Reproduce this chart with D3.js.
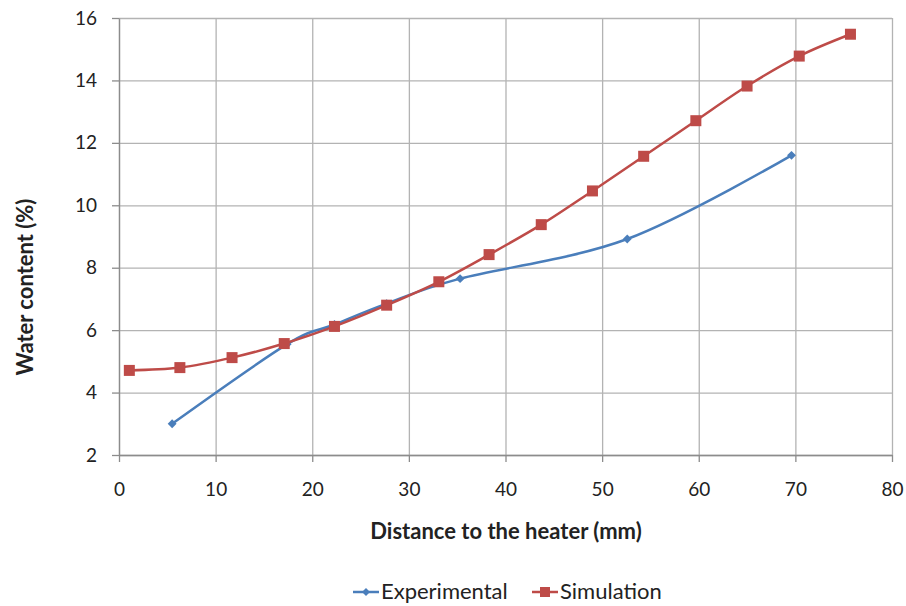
<!DOCTYPE html>
<html>
<head>
<meta charset="utf-8">
<script src="https://cdn.jsdelivr.net/npm/d3@7"></script>
<style>
  body { margin: 0; background: #fff; }
  text { font-family: Lato, "Open Sans", sans-serif; fill: #222; }
</style>
</head>
<body>
<div id="chart-container"></div>
<script>
// data
const exp_x = [5.5, 17.4, 22.3, 27.7, 35.3, 52.6, 69.6];
const exp_y = [3.0, 5.55, 6.18, 6.85, 7.65, 8.92, 11.6];
const sim_x = [1.07, 6.3, 11.7, 17.1, 22.3, 27.7, 33.1, 38.3, 43.7, 49.0, 54.3, 59.7, 65.0, 70.4, 75.7];
const sim_y = [4.71, 4.8, 5.12, 5.57, 6.12, 6.8, 7.55, 8.42, 9.38, 10.46, 11.57, 12.71, 13.82, 14.78, 15.48];
const x_ticks = [0, 10, 20, 30, 40, 50, 60, 70, 80];
const y_ticks = [2, 4, 6, 8, 10, 12, 14, 16];

const width = 906, height = 606;
const margin = { left: 119, right: 14, top: 18, bottom: 151 };
const innerWidth = width - margin.left - margin.right;
const innerHeight = height - margin.top - margin.bottom;

const svg = d3.select("#chart-container").append("svg")
  .attr("width", width).attr("height", height);

const xScale = d3.scaleLinear().domain([0, 80]).range([0, innerWidth]);
const yScale = d3.scaleLinear().domain([2, 16]).range([innerHeight, 0]);

const g = svg.append("g")
  .attr("transform", `translate(${margin.left},${margin.top})`);

// gridlines
g.append("g").attr("class", "x-grid")
  .attr("transform", `translate(0,${innerHeight})`)
  .call(d3.axisBottom(xScale).tickValues(x_ticks).tickSize(-innerHeight).tickFormat(""));
g.append("g").attr("class", "y-grid")
  .call(d3.axisLeft(yScale).tickValues(y_ticks).tickSize(-innerWidth).tickFormat(""));
svg.selectAll(".x-grid .domain, .y-grid .domain").remove();
svg.selectAll(".x-grid .tick line, .y-grid .tick line")
  .attr("stroke", "#b3b3b3").attr("stroke-width", 1.3);

// axes
g.append("g").attr("class", "x-axis")
  .attr("transform", `translate(0,${innerHeight})`)
  .call(d3.axisBottom(xScale).tickValues(x_ticks).tickSize(7).tickSizeOuter(0).tickPadding(21));
g.append("g").attr("class", "y-axis")
  .call(d3.axisLeft(yScale).tickValues(y_ticks).tickSize(7).tickSizeOuter(0).tickPadding(15));
svg.selectAll(".x-axis .domain, .y-axis .domain").attr("stroke", "#8c8c8c").attr("stroke-width", 1.3);
svg.selectAll(".x-axis .tick line, .y-axis .tick line").attr("stroke", "#8c8c8c").attr("stroke-width", 1.3);
svg.selectAll(".x-axis .tick text, .y-axis .tick text")
  .attr("fill", "#222").style("font-size", "19px").style("font-family", "Lato, 'Open Sans', sans-serif");

// axis titles
svg.append("text")
  .attr("x", 506).attr("y", 539)
  .attr("text-anchor", "middle")
  .style("font-size", "22px").style("font-weight", "bold")
  .text("Distance to the heater (mm)");
svg.append("text")
  .attr("transform", "translate(33,287) rotate(-90)")
  .attr("text-anchor", "middle")
  .style("font-size", "22px").style("font-weight", "bold")
  .text("Water content (%)");

const exp_data = exp_x.map((d, i) => ({ x: d, y: exp_y[i] }));
const sim_data = sim_x.map((d, i) => ({ x: d, y: sim_y[i] }));

const line = d3.line()
  .curve(d3.curveCatmullRom.alpha(0))
  .x((d) => xScale(d.x))
  .y((d) => yScale(d.y));

const blue = "#4a7ebb", red = "#be4b48";

g.append("path").datum(exp_data)
  .attr("d", line).attr("fill", "none")
  .attr("stroke", blue).attr("stroke-width", 2.5);
g.selectAll(".exp-pt").data(exp_data).enter().append("path")
  .attr("class", "exp-pt")
  .attr("transform", (d) => `translate(${xScale(d.x)},${yScale(d.y)})`)
  .attr("d", d3.symbol(d3.symbolDiamond2, 50))
  .attr("fill", blue);

g.append("path").datum(sim_data)
  .attr("d", line).attr("fill", "none")
  .attr("stroke", red).attr("stroke-width", 2.5);
g.selectAll(".sim-pt").data(sim_data).enter().append("rect")
  .attr("class", "sim-pt")
  .attr("x", (d) => xScale(d.x) - 5.5).attr("y", (d) => yScale(d.y) - 5.5)
  .attr("width", 11).attr("height", 11)
  .attr("fill", red);

// legend
const legend_items = [
  { name: "Experimental", color: blue, x0: 353, shape: "diamond" },
  { name: "Simulation", color: red, x0: 532, shape: "square" },
];
const legY = 592;
legend_items.forEach((item) => {
  const lg = svg.append("g");
  lg.append("line")
    .attr("x1", item.x0).attr("x2", item.x0 + 26)
    .attr("y1", legY).attr("y2", legY)
    .attr("stroke", item.color).attr("stroke-width", 2.5);
  if (item.shape === "diamond") {
    lg.append("path")
      .attr("transform", `translate(${item.x0 + 13},${legY})`)
      .attr("d", d3.symbol(d3.symbolDiamond2, 40))
      .attr("fill", item.color);
  } else {
    lg.append("rect")
      .attr("x", item.x0 + 8).attr("y", legY - 5)
      .attr("width", 10).attr("height", 10)
      .attr("fill", item.color);
  }
  lg.append("text")
    .attr("x", item.x0 + 28).attr("y", legY + 7)
    .style("font-size", "22px")
    .text(item.name);
});
</script>
</body>
</html>
